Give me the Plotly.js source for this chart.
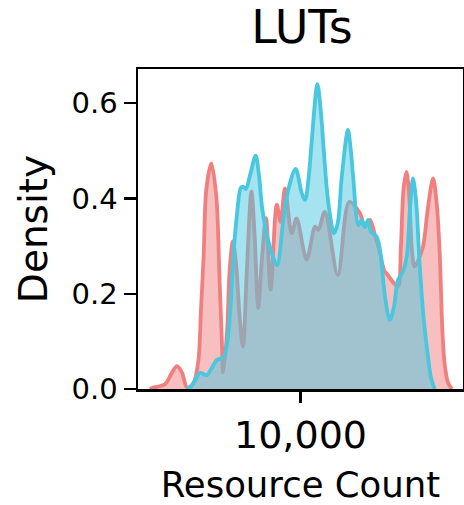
<!DOCTYPE html>
<html>
<head>
<meta charset="utf-8">
<script src="https://cdn.plot.ly/plotly-3.0.1.min.js"></script>
<style>html,body{margin:0;padding:0;background:#fff;}#chart{width:464px;height:505px;}</style>
</head>
<body>
<div id="chart"></div>
<script>
// x positions are log10(resource count)
const redLog10X = [3.537,3.546,3.583,3.605,3.620,3.635,3.651,3.669,3.685,3.694,3.702,3.710,3.7255,3.741,3.751,3.758,3.762,3.774,3.782,3.792,3.802,3.814,3.823,3.835,3.849,3.859,3.870,3.882,3.894,3.908,3.927,3.939,3.952,3.973,3.988,4.019,4.045,4.055,4.075,4.115,4.150,4.183,4.198,4.214,4.229,4.245,4.257,4.269,4.284,4.300,4.309,4.317,4.326,4.334,4.343,4.351,4.362,4.377,4.392,4.408,4.419,4.428,4.437,4.444,4.454,4.466];
const redDensity = [0,0.003,0.010,0.035,0.048,0.035,0.003,0.010,0.055,0.170,0.280,0.418,0.474,0.404,0.229,0.100,0.035,0.120,0.250,0.310,0.260,0.140,0.089,0.250,0.415,0.320,0.170,0.280,0.359,0.208,0.387,0.351,0.421,0.327,0.358,0.272,0.341,0.334,0.372,0.239,0.393,0.369,0.341,0.355,0.323,0.285,0.250,0.239,0.225,0.215,0.300,0.420,0.456,0.410,0.290,0.257,0.270,0.299,0.380,0.442,0.390,0.290,0.117,0.050,0.013,0];
const cyanLog10X = [3.649,3.662,3.677,3.691,3.712,3.725,3.743,3.763,3.775,3.784,3.794,3.805,3.816,3.823,3.832,3.845,3.862,3.872,3.882,3.896,3.912,3.928,3.947,3.963,3.985,4.004,4.014,4.026,4.034,4.052,4.063,4.070,4.081,4.090,4.103,4.115,4.127,4.146,4.155,4.162,4.178,4.188,4.198,4.208,4.217,4.234,4.245,4.260,4.275,4.288,4.300,4.315,4.327,4.337,4.346,4.355,4.367,4.380,4.392,4.401,4.413];
const cyanDensity = [0,0.005,0.020,0.034,0.029,0.042,0.061,0.066,0.100,0.166,0.285,0.370,0.422,0.425,0.420,0.450,0.490,0.450,0.380,0.325,0.285,0.260,0.355,0.420,0.462,0.411,0.397,0.450,0.516,0.640,0.580,0.516,0.420,0.369,0.327,0.350,0.446,0.544,0.500,0.446,0.344,0.355,0.340,0.355,0.330,0.320,0.290,0.194,0.145,0.175,0.229,0.246,0.280,0.380,0.442,0.400,0.257,0.140,0.070,0.025,0];
const xTickVals = [10000];
const xTickText = ['10,000'];
const yTickVals = [0, 0.2, 0.4, 0.6];
const yTickText = ['0.0', '0.2', '0.4', '0.6'];

const toCount = a => a.map(v => Math.pow(10, v));
const redC = 'rgb(240,128,128)';
const cyanC = 'rgb(73,199,223)';

const traces = [
  {x: toCount(redLog10X), y: redDensity, type: 'scatter', mode: 'lines',
   line: {color: redC, width: 3.8, shape: 'spline', smoothing: 0.9},
   fill: 'tozeroy', fillcolor: 'rgba(240,128,128,0.5)', hoverinfo: 'skip'},
  {x: toCount(cyanLog10X), y: cyanDensity, type: 'scatter', mode: 'lines',
   line: {color: cyanC, width: 3.8, shape: 'spline', smoothing: 0.9},
   fill: 'tozeroy', fillcolor: 'rgba(73,199,223,0.5)', hoverinfo: 'skip'}
];

const font = 'DejaVu Sans';
const layout = {
  width: 464, height: 505,
  margin: {l: 138, r: 1, t: 69, b: 116},
  paper_bgcolor: '#fff', plot_bgcolor: '#fff',
  showlegend: false,
  font: {family: font, color: '#000'},
  title: {text: 'LUTs', font: {family: font, size: 46, color: '#000'}, x: 0.651, xanchor: 'center', y: 0.914, yanchor: 'bottom'},
  xaxis: {
    type: 'log', range: [3.5, 4.5],
    tickmode: 'array', tickvals: xTickVals, ticktext: xTickText,
    ticks: 'outside', ticklen: 11, tickwidth: 2.2, tickcolor: '#000',
    tickfont: {family: font, size: 38, color: '#000'},
    showline: true, linecolor: '#000', linewidth: 2.5, mirror: true,
    showgrid: false, zeroline: false,
    title: {text: 'Resource Count', font: {family: font, size: 35.5, color: '#000'}, standoff: 21}
  },
  yaxis: {
    range: [0, 0.672],
    tickmode: 'array', tickvals: yTickVals, ticktext: yTickText,
    ticks: 'outside', ticklen: 12, tickwidth: 2.2, tickcolor: '#000',
    tickfont: {family: font, size: 29, color: '#000'},
    showline: true, linecolor: '#000', linewidth: 2.5, mirror: true,
    showgrid: false, zeroline: false,
    title: {text: 'Density', font: {family: font, size: 39, color: '#000'}, standoff: 12}
  }
};

Plotly.newPlot('chart', traces, layout, {staticPlot: true, displayModeBar: false});
</script>
</body>
</html>
